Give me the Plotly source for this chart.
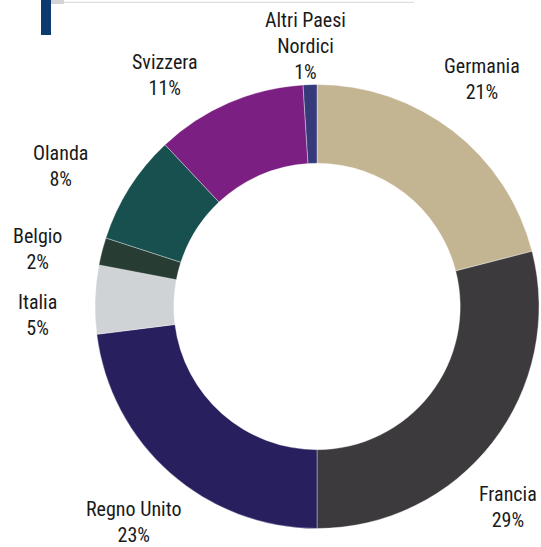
import plotly.graph_objects as go

# ---- data ----
countries = ["Germania", "Francia", "Regno Unito", "Italia", "Belgio",
             "Olanda", "Svizzera", "Altri Paesi<br>Nordici"]
shares = [21, 29, 23, 5, 2, 8, 11, 1]
pct_labels = ["21%", "29%", "23%", "5%", "2%", "8%", "11%", "1%"]

# ---- style ----
colors = ["#C4B592", "#3D3A3E", "#28205E", "#CFD3D5", "#273D33",
          "#17504F", "#7B1F82", "#363A7A"]
W, H = 541, 547
# label anchor centres (pixels, from top-left)
label_pos = [(482, 79), (508, 507), (133, 522), (37, 315), (37, 249),
             (60, 166), (165, 75), (305, 46)]

FONT = "Liberation Sans Narrow, Roboto Condensed, DejaVu Sans Condensed, Arial Narrow, sans-serif"

def px(x):
    return x / W

def py(y):
    return 1 - y / H

cx, cy, R = 317, 306.5, 222

fig = go.Figure(go.Pie(
    labels=countries,
    values=shares,
    sort=False,
    direction="clockwise",
    rotation=0,
    hole=0.645,
    marker=dict(colors=colors, line=dict(color="rgba(255,255,255,0.6)", width=0.6)),
    textinfo="none",
    hoverinfo="label+percent",
    showlegend=False,
    domain=dict(x=[px(cx - R), px(cx + R)], y=[py(cy + R), py(cy - R)]),
))

annotations = []
for name, pct, (x, y) in zip(countries, pct_labels, label_pos):
    annotations.append(dict(
        x=px(x), y=py(y), xref="paper", yref="paper",
        text=f"{name}<br>{pct}", showarrow=False,
        xanchor="center", yanchor="middle", align="center",
        borderpad=0,
        font=dict(family=FONT, size=20, color="#1a1a1a"),
    ))

shapes = [
    dict(type="line", xref="paper", yref="paper",
         x0=px(64), x1=px(414), y0=py(2.3), y1=py(2.3),
         line=dict(color="#d6d6d6", width=1)),
    dict(type="rect", xref="paper", yref="paper",
         x0=px(51), x1=px(64), y0=py(4), y1=py(0),
         fillcolor="#d4d4d4", line=dict(width=0)),
    dict(type="rect", xref="paper", yref="paper",
         x0=px(41), x1=px(51), y0=py(35), y1=py(0),
         fillcolor="#0B3A6E", line=dict(width=0)),
]

fig.update_layout(
    width=W, height=H,
    margin=dict(l=0, r=0, t=0, b=0),
    paper_bgcolor="white", plot_bgcolor="white",
    annotations=annotations, shapes=shapes,
)

fig.write_html("out.html",
               config={"displayModeBar": False},
               post_script="document.body.style.margin='0';document.body.style.padding='0';document.body.style.overflow='hidden';")
